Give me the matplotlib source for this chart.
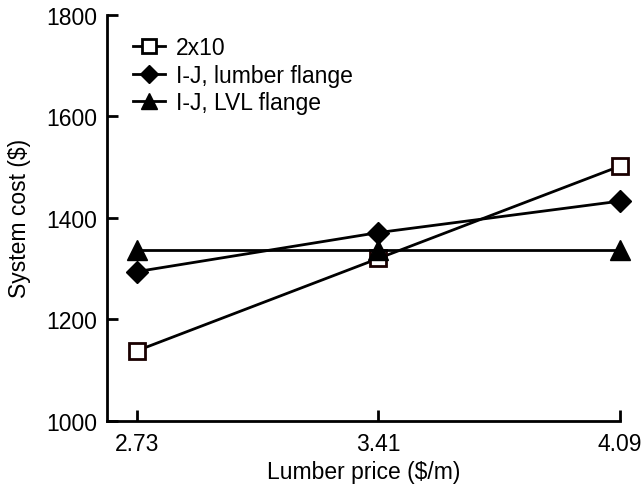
import matplotlib
matplotlib.use("Agg")
import matplotlib.pyplot as plt

plt.rcParams['font.family'] = ['Liberation Sans', 'DejaVu Sans']

# Lumber price scenarios and resulting system costs
lumber_price = [2.73, 3.41, 4.09]
cost_2x10 = [1138, 1320, 1502]
cost_ij_lumber = [1294, 1371, 1433]
cost_ij_lvl = [1336, 1336, 1336]
y_ticks = [1000, 1200, 1400, 1600, 1800]

FS = 16.5


def main():
    fig = plt.figure(figsize=(6.43, 4.85), dpi=100)
    ax = fig.add_axes([0.1664, 0.1305, 0.7978, 0.8365])

    ax.plot(lumber_price, cost_2x10, color="black", lw=2, marker="s", ms=11.5,
            mfc="white", mec="#1a0000", mew=2, label="2x10", clip_on=False)
    ax.plot(lumber_price, cost_ij_lumber, color="black", lw=2, marker="D", ms=11,
            mfc="black", mec="black", label="I-J, lumber flange", clip_on=False)
    ax.plot(lumber_price, cost_ij_lvl, color="black", lw=2, marker="^", ms=14,
            mfc="black", mec="black", label="I-J, LVL flange", clip_on=False)

    ax.set_xlim(2.6455, 4.09)
    ax.set_ylim(1000, 1800)
    ax.set_xticks(lumber_price, labels=[f"{p:.2f}" for p in lumber_price])
    ax.set_yticks(y_ticks)

    for side in ["top", "right"]:
        ax.spines[side].set_visible(False)
    for side in ["left", "bottom"]:
        ax.spines[side].set_linewidth(2)
    ax.tick_params(direction="in", length=8, width=2, labelsize=FS, pad=7)
    ax.tick_params(axis="x", pad=8)

    ax.set_xlabel("Lumber price ($/m)", fontsize=FS, labelpad=4)
    ax.set_ylabel("System cost ($)", fontsize=FS, labelpad=11)

    leg = ax.legend(loc="upper left", bbox_to_anchor=(0.05, 0.948), frameon=False,
                    borderaxespad=0, borderpad=0, handlelength=1.4, handletextpad=0.5,
                    labelspacing=0.2, fontsize=FS, markerscale=0.85)
    leg.legend_handles[0].set_markeredgecolor("black")

    fig.savefig("out.png", dpi=100)


if __name__ == "__main__":
    main()
